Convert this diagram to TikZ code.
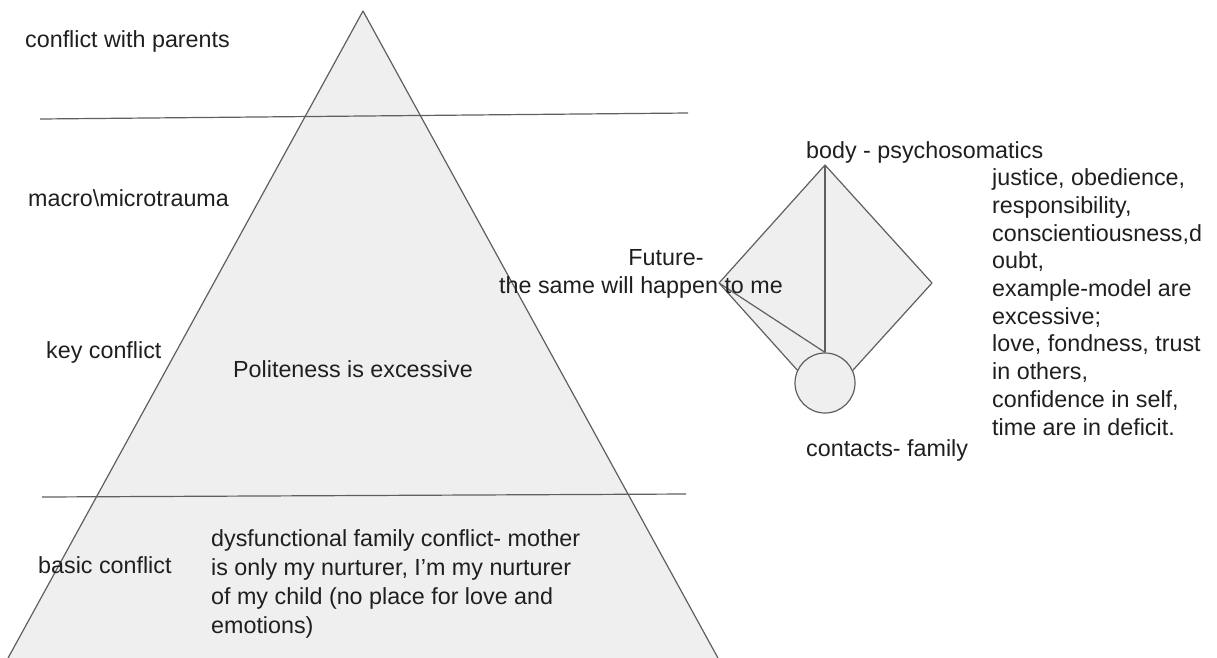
\documentclass[tikz,border=0pt]{standalone}
\usepackage{fontspec}
\setmainfont{Liberation Sans}
\usetikzlibrary{positioning, calc}
\definecolor{ShapeGray}{HTML}{EFEFEF}
\definecolor{EdgeGray}{HTML}{5F5F5F}
\definecolor{InkBlack}{HTML}{1F1F1F}

\begin{document}
\begin{tikzpicture}[
    x=1pt, y=-1pt,
    % Style for all outlines
    edge/.style = {draw=EdgeGray, line width=1.2pt, line join=round},
    % Style for the plain texts (anchored at the baseline of the last line)
    note/.style = {inner sep=0pt, anchor=base west, align=left, text=InkBlack,
        font=\fontsize{23.3pt}{27.7pt}\selectfont},
]
\useasboundingbox (0,0) rectangle (1217,657);
\clip (0,0) rectangle (1217,657);

% --- 1. PYRAMID ---
\coordinate (apex) at (363,11);
\coordinate (baseL) at (-15,700);
\coordinate (baseR) at (741,700);
\fill[ShapeGray] (apex) -- (baseL) -- (baseR) -- cycle;
\draw[edge] (baseL) -- (apex) -- (baseR);

% level dividers
\coordinate (topL) at (40,119);
\coordinate (topR) at (688,113);
\coordinate (lowL) at (42,497);
\coordinate (lowR) at (686,494);
\draw[edge] (topL) -- (topR);
\draw[edge] (lowL) -- (lowR);

% --- 2. DIAMOND ---
\coordinate (dTop) at (825,165);
\coordinate (dLeft) at (719,283);
\coordinate (dRight) at (932,283);
\coordinate (dBottom) at (825,401);
\draw[edge, fill=ShapeGray] (dTop) -- (dLeft) -- (dBottom) -- (dRight) -- cycle;
\node[circle, edge, fill=ShapeGray, inner sep=0pt, minimum size=60pt] (family) at (825,383) {};
\draw[edge] (dTop) -- (family.north);
\draw[edge] (dLeft) -- (family.north);

% --- 3. TEXTS ---
\node[note] (parents) at (25,47) {conflict with parents};
\node[note] (trauma) at (28,206) {macro\textbackslash microtrauma};
\node[note] (keyconf) at (46,358) {key conflict};
\node[note] (polite) at (233,377) {Politeness is excessive};
\node[note] (basicconf) at (38,573) {basic conflict};
\node[note, font=\fontsize{23.3pt}{28.7pt}\selectfont] (dysfunc) at (211,633)
    {dysfunctional family conflict- mother\\
    is only my nurturer, I’m my nurturer\\of my child (no place for love and\\emotions)};
\node[note, align=center, anchor=base] (future) at (641,293)
    {\hspace*{50pt}Future-\\the same will happen to me};
\node[note] (body) at (806,158) {body - psychosomatics};
\node[note] (values) at (992,435) {justice, obedience,\\responsibility,\\
    conscientiousness,d\\oubt,\\example-model are\\excessive;\\
    love, fondness, trust\\in others,\\confidence in self,\\time are in deficit.};
\node[note] (contacts) at (806,456) {contacts- family};

\end{tikzpicture}
\end{document}
